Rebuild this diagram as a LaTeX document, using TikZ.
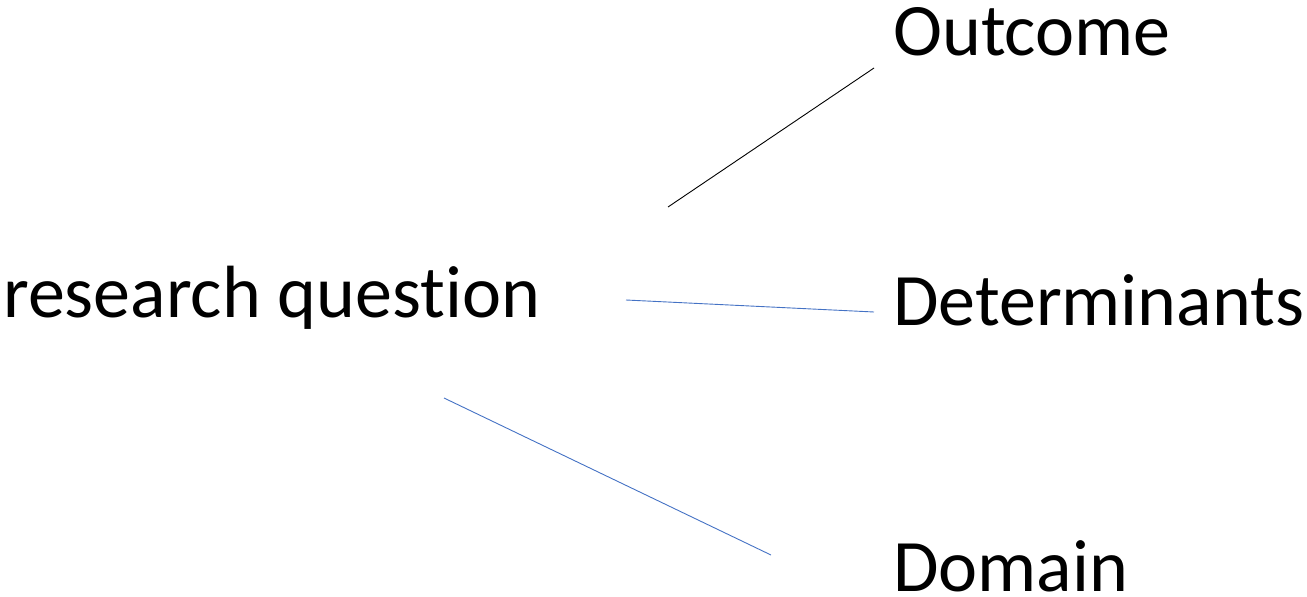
\documentclass[tikz,border=0pt]{standalone}
\usepackage{fontspec}
\setmainfont{Carlito}[RawFeature={-liga}]
\definecolor{lineblue}{RGB}{68,114,196}
\begin{document}
\begin{tikzpicture}[x=1pt,y=-1pt,
  lbl/.style={anchor=base west,inner sep=0pt,font=\fontsize{74}{80}\selectfont},
  blk/.style={draw=black,line width=0.9pt},
  blu/.style={draw=lineblue,line width=0.9pt}]
\useasboundingbox (0,0) rectangle (1307,597);
\node[lbl] (rq) at (3,317) {research question};
\node[lbl] (out) at (893,55) {Outcome};
\node[lbl] (det) at (893,325) {Determinants};
\node[lbl] (dom) at (893,591) {Domain};
\coordinate (a1) at (668,207);
\coordinate (a2) at (874,68);
\coordinate (b1) at (626,300);
\coordinate (b2) at (874,312);
\coordinate (c1) at (444,398);
\coordinate (c2) at (771,555);
\draw[blk] (a1) -- (a2);
\draw[blu] (b1) -- (b2);
\draw[blu] (c1) -- (c2);
\end{tikzpicture}
\end{document}
